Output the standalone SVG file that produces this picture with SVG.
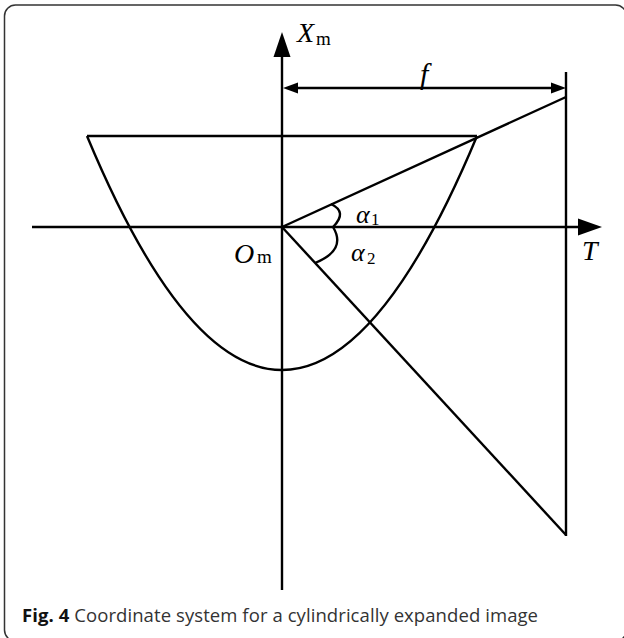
<svg xmlns="http://www.w3.org/2000/svg" width="624" height="638" viewBox="0 0 624 638">
<style>
.ln{fill:none;stroke:#000;stroke-width:2.4;stroke-linecap:butt}
.ah{fill:#000;stroke:none}
.mi{font-family:"Liberation Serif","Times New Roman",serif;font-style:italic;fill:#000}
.up{font-family:"Liberation Serif","Times New Roman",serif;fill:#000}
.cap{font-family:"Open Sans","Noto Sans","Liberation Sans",sans-serif;font-size:18.5px;fill:#333}
</style>
<rect id="frame" x="4.5" y="5" width="622" height="636" rx="11" fill="#fff" stroke="#333" stroke-width="1.5"/>
<g id="connectors">
<line class="ln" x1="282" y1="56" x2="282" y2="590"/>
<line class="ln" x1="32" y1="227" x2="580" y2="227"/>
<line class="ln" x1="566" y1="72" x2="566" y2="536"/>
<line class="ln" x1="296" y1="88" x2="553" y2="88"/>
<line class="ln" x1="87" y1="136" x2="477" y2="136"/>
<line class="ln" x1="282" y1="227" x2="566" y2="97"/>
<line class="ln" x1="282" y1="227" x2="566" y2="535"/>
<path class="ln" d="M87,136 Q282,604 477,136"/>
<path class="ln" d="M331,204 Q348,212 333,227"/>
<path class="ln" d="M333,227 Q347,250 315,263"/>
<polygon class="ah" points="282,32 273.5,57 290.5,57"/>
<polygon class="ah" points="602,227 578,218.5 578,235.5"/>
<polygon class="ah" points="283,88 298,82.5 298,93.5"/>
<polygon class="ah" points="566,88 551,82.5 551,93.5"/>
</g>
<g id="label-Xm"><text class="mi" x="297" y="42" font-size="28">X</text><text class="up" x="316" y="45" font-size="19">m</text></g>
<g id="label-f"><text class="mi" x="420" y="84" font-size="30">f</text></g>
<g id="label-Om"><text class="mi" x="234" y="263" font-size="28">O</text><text class="up" x="257" y="263" font-size="19">m</text></g>
<g id="label-T"><text class="mi" x="582" y="260" font-size="28">T</text></g>
<g id="label-a1"><text class="mi" x="356" y="223" font-size="26">α</text><text class="up" x="371" y="225" font-size="17">1</text></g>
<g id="label-a2"><text class="mi" x="351" y="261" font-size="26">α</text><text class="up" x="367" y="264" font-size="17">2</text></g>
<g id="caption"><text class="cap" x="22" y="622" textLength="516" lengthAdjust="spacing"><tspan font-weight="bold" fill="#111">Fig. 4</tspan> Coordinate system for a cylindrically expanded image</text></g>
</svg>
